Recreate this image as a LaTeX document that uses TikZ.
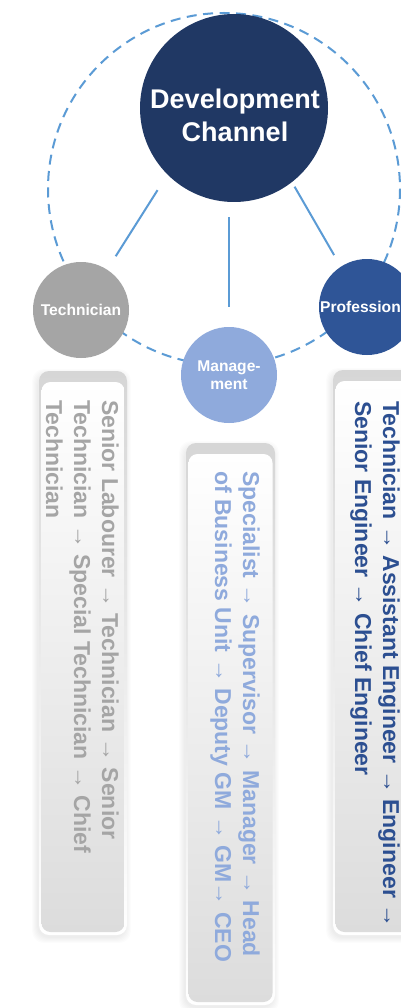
\documentclass[tikz,border=0pt]{standalone}
\usepackage{fontspec}
\setmainfont{Liberation Sans}
\usetikzlibrary{calc}
\definecolor{navy}{HTML}{203864}
\definecolor{techgray}{HTML}{A5A5A5}
\definecolor{mgmtblue}{HTML}{8FAADC}
\definecolor{profblue}{HTML}{2F5597}
\definecolor{proftext}{HTML}{2C4F91}
\definecolor{linkblue}{HTML}{5B9BD5}
\definecolor{bandgray}{HTML}{D6D6D6}
\definecolor{panelgray}{HTML}{DCDCDC}
\newcommand{\flowarrow}{{\mdseries →}}
\newcommand{\careerbox}[4]{%
  \foreach \s in {1,...,6}{%
    \fill[black,opacity=0.012,rounded corners=12pt] (#1-\s-1,#2-\s+4) rectangle (#3+\s-2,#4+\s+2);}
  \shade[top color=bandgray, bottom color=white, rounded corners=10pt] (#1,#2) rectangle (#3,#4);
  \shade[top color=white, bottom color=panelgray, rounded corners=9pt] (#1+2.5,#2+11) rectangle (#3-2.5,#4-3);
}
\tikzset{
  ring/.style={draw=linkblue, line width=2pt, dash pattern=on 10pt off 6.5pt},
  link/.style={draw=linkblue, line width=2pt},
  bigcircle/.style={circle, fill=navy, minimum size=188pt, inner sep=0pt},
  smallcircle/.style={circle, minimum size=96pt, inner sep=0pt, text=white, align=center,
    font=\fontsize{15.6}{18.5}\selectfont\bfseries},
  pathtext/.style={rotate=-90, anchor=north west, align=left, inner sep=0pt,
    font=\fontsize{23}{28}\selectfont\bfseries},
}
\begin{document}
\begin{tikzpicture}[x=1pt,y=-1pt]
\useasboundingbox (0,0) rectangle (401,1008);
\clip (0,0) rectangle (401,1008);
\fill[white] (0,0) rectangle (401,1008);
% boxes
\careerbox{39}{371}{127}{935}
\careerbox{186}{443}{275}{1005}
\careerbox{333}{370}{421}{935}
% dashed ring
\draw[ring] (224,189) circle[radius=176];
% circles
\node[bigcircle] (main) at (234,108) {};
\node[font=\fontsize{27}{33}\selectfont\bfseries, text=white, align=center, inner sep=0pt]
  (mainlabel) at (235,115.5) {Development\\Channel};
\node[smallcircle, fill=techgray] (tech) at (81,310) {Technician};
\node[smallcircle, fill=mgmtblue] (mgmt) at (229,375) {Manage-\\ment};
\node[smallcircle, fill=profblue] (prof) at (367,307) {Professional};
% connectors
\draw[link, shorten <=18.4pt, shorten >=15.8pt] (main.-135.4) -- (tech.57.8);
\draw[link, shorten <=15pt, shorten >=20pt] (mgmt.north |- main.south) -- (mgmt.north);
\draw[link, shorten <=5.2pt, shorten >=13.3pt] (main.-52.8) -- (prof.123.7);
% path texts
\node[pathtext, text=techgray] (techpath) at (119,400)
  {Senior Labourer \flowarrow{} Technician \flowarrow{} Senior\\
   Technician \flowarrow{} Special Technician \flowarrow{} Chief\\
   Technician};
\node[pathtext, text=mgmtblue] (mgmtpath) at (260,471)
  {Specialist \flowarrow{} Supervisor \flowarrow{} Manager \flowarrow{} Head\\
   of Business Unit \flowarrow{} Deputy GM \flowarrow{} GM\flowarrow{} CEO};
\node[pathtext, text=proftext] (profpath) at (400,401)
  {Technician \flowarrow{} Assistant Engineer \flowarrow{} Engineer \flowarrow{}\\
   Senior Engineer \flowarrow{} Chief Engineer};
\end{tikzpicture}
\end{document}
